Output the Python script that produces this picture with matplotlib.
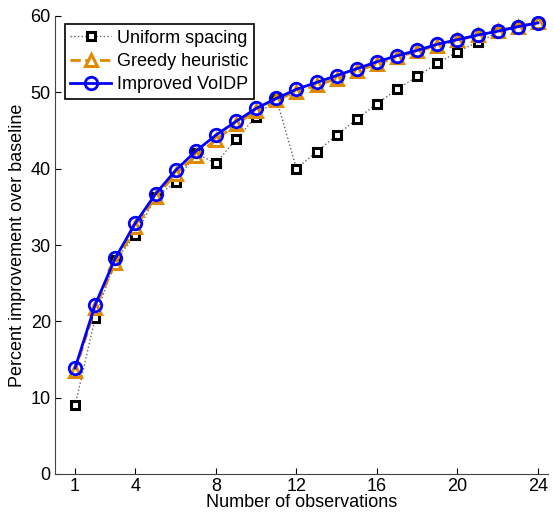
import matplotlib
matplotlib.use('Agg')
import matplotlib.pyplot as plt

plt.rcParams['font.family'] = ['Liberation Sans', 'DejaVu Sans']
plt.rcParams['font.size'] = 13

# number of observations
n_obs = list(range(1, 25))

uniform = [9.0, 20.5, 28.0, 31.3, 36.3, 38.2, 42.0, 40.7, 43.9, 46.8, 49.2, 40.0,
           42.2, 44.4, 46.5, 48.5, 50.4, 52.1, 53.8, 55.3, 56.6, 57.8, 58.6, 59.1]
greedy = [13.5, 21.8, 27.6, 32.3, 36.3, 39.3, 41.7, 43.8, 45.8, 47.6, 49.0, 50.1,
          50.9, 51.8, 52.8, 53.7, 54.6, 55.4, 56.1, 56.8, 57.5, 58.1, 58.6, 59.2]
voidp = [13.9, 22.2, 28.3, 32.9, 36.7, 39.8, 42.3, 44.4, 46.2, 47.9, 49.2, 50.4,
         51.3, 52.2, 53.1, 54.0, 54.8, 55.5, 56.3, 56.9, 57.5, 58.0, 58.6, 59.1]

xticks = [1, 4, 8, 12, 16, 20, 24]
yticks = [0, 10, 20, 30, 40, 50, 60]

fig = plt.figure(figsize=(5.54, 5.17), dpi=100)
ax = fig.add_axes([55/554, 43/517, (548-55)/554, (474-16)/517])

ax.plot(n_obs, uniform, linestyle=':', color='#666666', linewidth=1.0,
        marker='s', markersize=6, markeredgewidth=2.2, markeredgecolor='k',
        markerfacecolor='white', label='Uniform spacing')
ax.plot(n_obs, greedy, linestyle='--', color='#E08A00', linewidth=2.0,
        marker='^', markersize=9, markeredgewidth=2.2, markeredgecolor='#E08A00',
        markerfacecolor='white', label='Greedy heuristic')
ax.plot(n_obs, voidp, linestyle='-', color='#0000FF', linewidth=2.0,
        marker='o', markersize=9, markeredgewidth=2.0, markeredgecolor='#0000FF',
        markerfacecolor='none', label='Improved VoIDP')

ax.set_xlim(0, 24.5)
ax.set_ylim(0, 60)
ax.set_xticks(xticks)
ax.set_yticks(yticks)
ax.tick_params(direction='in', length=4, width=0.8, pad=3)
ax.spines['top'].set_visible(False)
ax.spines['right'].set_visible(False)
ax.spines['left'].set_color('#444444')
ax.spines['bottom'].set_color('#444444')
ax.set_xlabel('Number of observations', labelpad=-1)
ax.set_ylabel('Percent improvement over baseline', labelpad=3)

leg = ax.legend(loc='upper left', bbox_to_anchor=(0.012, 0.99), fancybox=False,
                framealpha=1, borderpad=0.3, handlelength=2.3, handletextpad=0.3,
                labelspacing=0.35, borderaxespad=0.2)
leg.get_frame().set_edgecolor('k')
leg.get_frame().set_linewidth(1.2)

plt.savefig('out.png', dpi=100)
plt.close()
